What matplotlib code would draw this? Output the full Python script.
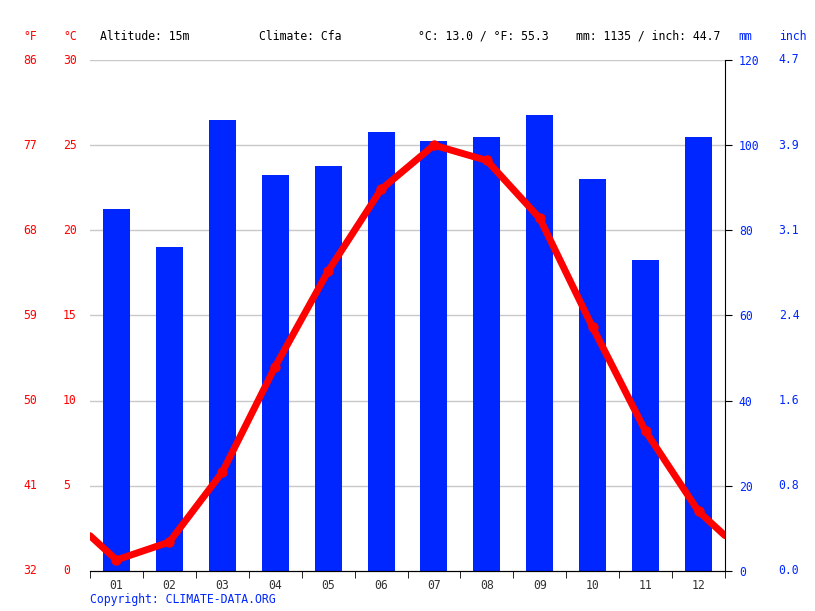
import numpy as np
import matplotlib.pyplot as plt
from matplotlib.transforms import blended_transform_factory

# climate data
months = ['01', '02', '03', '04', '05', '06', '07', '08', '09', '10', '11', '12']
precip_mm = [85, 76, 106, 93, 95, 103, 101, 102, 107, 92, 73, 102]
temp_c = [0.65, 1.7, 5.8, 12.0, 17.6, 22.4, 25.0, 24.1, 20.7, 14.3, 8.2, 3.5]
c_ticks = [0, 5, 10, 15, 20, 25, 30]
f_labels = ['32', '41', '50', '59', '68', '77', '86']
mm_ticks = [0, 20, 40, 60, 80, 100, 120]
inch_labels = ['0.0', '0.8', '1.6', '2.4', '3.1', '3.9', '4.7']

red = '#ff0000'
blue = '#0026ff'
font = 'DejaVu Sans Mono'
fs = 8.3
W, H = 815, 611

fig = plt.figure(figsize=(W / 100, H / 100), dpi=100)
ax = fig.add_axes([90 / W, 40 / H, 635 / W, 511 / H])
ax2 = ax.twinx()

x = np.arange(len(months)) + 0.5
ax2.bar(x, precip_mm, width=0.51, color=blue, zorder=2)
ax2.set_ylim(0, 120)

# temperature line, ends wrap to the neighbouring year
edge = (temp_c[0] + temp_c[-1]) / 2
tx = np.concatenate([[0], x, [12]])
ty = np.concatenate([[edge], temp_c, [edge]])
ax.set_zorder(ax2.get_zorder() + 1)
ax.patch.set_visible(False)
ax.plot(tx, ty, color=red, lw=5, solid_capstyle='round', zorder=5)
ax.plot(x, temp_c, 'o', color=red, ms=6.5, zorder=6)
ax.set_ylim(0, 30)
ax.set_xlim(0, 12)

for yv in c_ticks[1:]:
    ax2.axhline(yv * 4, color='#c8c8c8', lw=1, zorder=0)

# left axis labels (°F and °C columns, left aligned)
ax.set_yticks([])
tr = blended_transform_factory(ax.transAxes, ax.transData)
for c, f in zip(c_ticks, f_labels):
    ax.text(-27 / 635, c, str(c), color=red, fontsize=fs, family=font, ha='left', va='center', transform=tr)
    ax.text(-67 / 635, c, f, color=red, fontsize=fs, family=font, ha='left', va='center', transform=tr)

# x axis
ax.set_xticks(x)
ax.set_xticklabels(months, fontsize=fs, family=font, color='#333333')
ax.set_xticks(np.arange(13), minor=True)
ax.tick_params(axis='x', which='major', length=0, pad=6)
ax.tick_params(axis='x', which='minor', length=5, direction='out', color='black')

# right axis
ax2.set_yticks(mm_ticks)
ax2.set_yticklabels([str(m) for m in mm_ticks], color=blue, fontsize=fs, family=font)
ax2.tick_params(axis='y', length=5, direction='out', color='black', pad=5)
tr2 = blended_transform_factory(ax2.transAxes, ax2.transData)
for m, i in zip(mm_ticks, inch_labels):
    ax2.text(1 + 64 / 635, m, i, color=blue, fontsize=fs, family=font, ha='center', va='center', transform=tr2)

for a in (ax, ax2):
    a.spines['top'].set_visible(False)
    a.spines['left'].set_visible(False)
ax.spines['right'].set_visible(False)
ax2.spines['right'].set_color('black')
ax2.spines['bottom'].set_color('black')

# header
yh = 1 - 36 / H
fig.text(30 / W, yh, '°F', color=red, fontsize=fs, family=font, ha='center', va='center')
fig.text(70 / W, yh, '°C', color=red, fontsize=fs, family=font, ha='center', va='center')
fig.text(100 / W, yh, 'Altitude: 15m', fontsize=fs, family=font, va='center')
fig.text(259 / W, yh, 'Climate: Cfa', fontsize=fs, family=font, va='center')
fig.text(418 / W, yh, '°C: 13.0 / °F: 55.3', fontsize=fs, family=font, va='center')
fig.text(576 / W, yh, 'mm: 1135 / inch: 44.7', fontsize=fs, family=font, va='center')
fig.text(745 / W, yh, 'mm', color=blue, fontsize=fs, family=font, ha='center', va='center')
fig.text(793 / W, yh, 'inch', color=blue, fontsize=fs, family=font, ha='center', va='center')
fig.text(90 / W, 1 - 600 / H, 'Copyright: CLIMATE-DATA.ORG', color=blue, fontsize=fs, family=font, va='center')

fig.savefig('out.png', dpi=100)
